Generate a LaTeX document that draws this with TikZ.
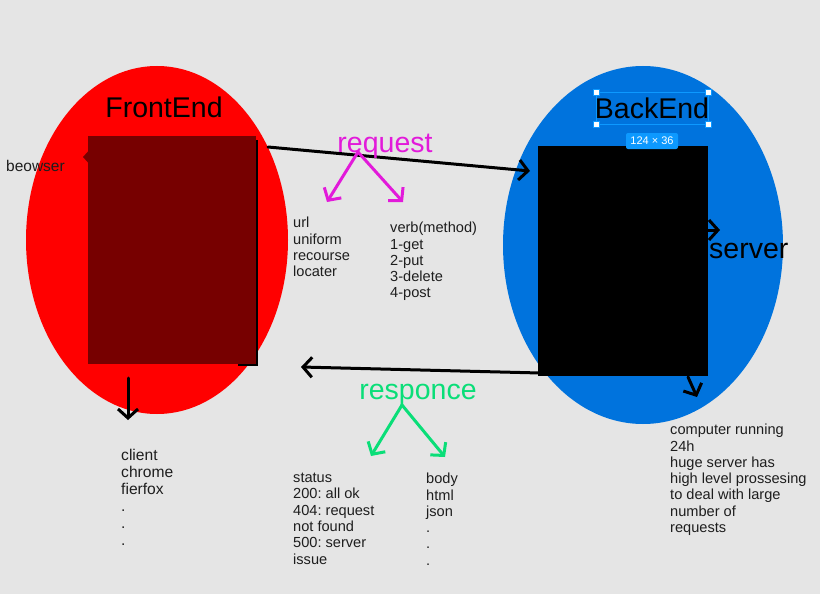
\documentclass[tikz,border=0pt]{standalone}
\usepackage{fontspec}
\setmainfont{Liberation Sans}
\usetikzlibrary{arrows.meta}
\frenchspacing

\definecolor{bgray}{RGB}{229,229,229}
\definecolor{feRed}{RGB}{255,0,0}
\definecolor{feDark}{RGB}{119,0,0}
\definecolor{beBlue}{RGB}{0,115,221}
\definecolor{reqPink}{RGB}{226,26,218}
\definecolor{resGreen}{RGB}{10,222,120}
\definecolor{figBlue}{RGB}{13,153,255}
\definecolor{txt}{RGB}{30,30,30}

\begin{document}
\begin{tikzpicture}[x=1pt,y=-1pt]

\tikzset{line/.style={draw,line width=3pt,line cap=round}}
\tikzset{arrow/.style={line,-{Straight Barb[length=9,width=20,line width=3pt]}}}
\tikzset{title/.style={inner sep=0pt,font=\fontsize{28.5}{32}\selectfont}}
\tikzset{note/.style={anchor=north west,align=left,inner sep=0pt,text=txt,font=\fontsize{14.6}{16.3}\selectfont}}
\tikzset{handle/.style={draw=figBlue,fill=white,line width=0.8pt,minimum size=6pt,inner sep=0pt}}

% background
\fill[bgray] (0,0) rectangle (820,594);
\useasboundingbox (0,0) rectangle (820,594);

% frontend side
\fill[feRed] (157,240) ellipse [x radius=131, y radius=174];
\node[note,font=\fontsize{15.5}{18}\selectfont] (brw) at (6,160) {beowser};
\coordinate (brwtip) at (83,157);
\draw[arrow,draw=feDark] (120,157) -- (brwtip);
\fill[black] (250,140) rectangle (258,366);
\fill[black] (238,356) rectangle (258,366);
\node[fill=feDark,inner sep=0pt,minimum width=168pt,minimum height=228pt,anchor=north west] (fe) at (88,136) {};
\node[title] (feT) at (164,107) {FrontEnd};

% backend side
\fill[beBlue] (643,245) ellipse [x radius=140, y radius=179];
\node[fill=black,inner sep=0pt,minimum width=170pt,minimum height=230pt,anchor=north west] (be) at (538,146) {};
\node[title] (beT) at (652,108) {BackEnd};
\draw[figBlue,line width=0.8pt] (596,92) rectangle (708,124);
\foreach \p in {(596,92),(708,92),(596,124),(708,124)}
  \node[handle] at \p {};
\node[fill=figBlue,rounded corners=2pt,text=white,font=\fontsize{11}{12}\selectfont,
      minimum width=52pt,minimum height=16pt,inner sep=0pt] (dim) at (652,141) {124 × 36};
\node[title,anchor=west] (srv) at (709,251) {server};
\coordinate (srvS) at (703,230);
\coordinate (srvE) at (720,230);
\draw[arrow] (srvS) -- (srvE);

% request
\coordinate (reqS) at (268,147);
\coordinate (reqE) at (530,171);
\draw[arrow] (reqS) -- (reqE);
\node[title,text=reqPink] (req) at (385,146) {request};
\coordinate (reqF) at (358,152);
\coordinate (urlA) at (327,202);
\coordinate (verbA) at (403,202);
\draw[arrow,draw=reqPink] (reqF) -- (urlA);
\draw[arrow,draw=reqPink] (reqF) -- (verbA);
\node[note] (url) at (293,217) {url\\uniform\\recourse\\locater};
\node[note] (verb) at (390,222) {verb(method)\\1-get\\2-put\\3-delete\\4-post};

% responce
\coordinate (resS) at (540,373);
\coordinate (resE) at (301,367);
\draw[arrow] (resS) -- (resE);
\node[title,text=resGreen] (res) at (418,395) {responce};
\coordinate (resF) at (402,405);
\coordinate (stA) at (371,456);
\coordinate (bodyA) at (445,457);
\draw[arrow,draw=resGreen] (resF) -- (stA);
\draw[arrow,draw=resGreen] (resF) -- (bodyA);
\node[note] (stat) at (293,473) {status\\200: all ok\\404: request\\not found\\500: server\\issue};
\node[note] (body) at (426,473) {body\\html\\json\\.\\.\\.};

% client and server notes
\coordinate (cliS) at (128,378);
\coordinate (cliE) at (128,420);
\draw[arrow] (cliS) -- (cliE);
\node[note,font=\fontsize{15.6}{17}\selectfont] (cli) at (121,449) {client\\chrome\\fierfox\\.\\.\\.};
\coordinate (cmpS) at (688,377);
\coordinate (cmpE) at (697,397);
\draw[arrow] (cmpS) -- (cmpE);
\node[note] (cmp) at (670,424) {computer running\\24h\\huge server has\\high level prossesing\\to deal with large\\number of\\requests};

\end{tikzpicture}
\end{document}
